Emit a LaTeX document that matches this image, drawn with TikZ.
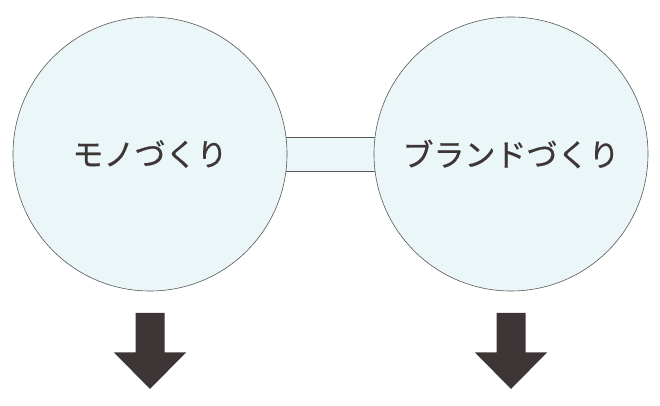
\documentclass[tikz,border=0pt]{standalone}
\usepackage{fontspec}
\newfontfamily\jpfont[FakeBold=0.6]{Noto Sans CJK JP}
\usetikzlibrary{backgrounds}
\definecolor{circfill}{HTML}{EAF6F7}
\definecolor{circline}{HTML}{595757}
\definecolor{arrowdark}{HTML}{3E3636}
\begin{document}
\begin{tikzpicture}[
	x=1pt, y=1pt,
	ring/.style={ circle, draw=circline, semithick, fill=circfill, inner sep=0pt, minimum size=274pt, font=\jpfont\fontsize{31}{31}\selectfont, text=arrowdark },
	bridge/.style={ draw=circline, thick, fill=circfill },
	downarrow/.style={ fill=arrowdark }
]
\useasboundingbox (0,0) rectangle (660,406);

\node at (150,252) (mono) [ring] {モノづくり};
\node at (511,252) (brand) [ring] {ブランドづくり};
\begin{scope}[on background layer]
	\draw[bridge] ([yshift=17pt]mono.center) rectangle ([yshift=-17pt]brand.center);
\end{scope}

\foreach \c in {mono,brand} {
	\coordinate (\c top) at ([yshift=-159pt]\c.center);
	\fill[downarrow] ([xshift=-14.5pt]\c top) -- ++(0,-39.5) -- ++(-21.5,0) -- ([yshift=-76pt]\c top)
		-- ++(36,36.5) -- ++(-21.5,0) -- ++(0,39.5) -- cycle;
}

\end{tikzpicture}
\end{document}
